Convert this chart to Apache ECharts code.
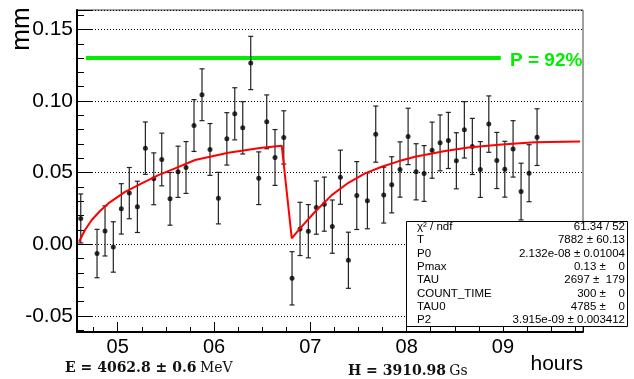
<!DOCTYPE html>
<html>
<head>
<meta charset="utf-8">
<script src="https://cdn.jsdelivr.net/npm/echarts@6/dist/echarts.min.js"></script>
<style>
  html, body { margin: 0; padding: 0; background: #fff; }
  #chart { width: 634px; height: 379px; }
</style>
</head>
<body>
<div id="chart"></div>
<script>
// measured points (time in hours, polarization in mm)
const times = [
  4.616, 4.785, 4.868, 4.954, 5.037, 5.120, 5.204, 5.287, 5.374, 5.457,
  5.543, 5.626, 5.709, 5.792, 5.875, 5.958, 6.045, 6.133, 6.215, 6.298,
  6.381, 6.464, 6.547, 6.633, 6.724, 6.810, 6.893, 6.979, 7.062, 7.145,
  7.228, 7.312, 7.395, 7.482, 7.592, 7.679, 7.762, 7.845, 7.931, 8.015,
  8.098, 8.181, 8.264, 8.347, 8.433, 8.516, 8.599, 8.682, 8.765, 8.853,
  8.936, 9.019, 9.105, 9.188, 9.271, 9.354
];
const values = [
  0.0180, -0.0065, 0.0093, -0.0019, 0.0247, 0.0357, 0.0261, 0.0671, 0.0457, 0.0592,
  0.0317, 0.0506, 0.0536, 0.0829, 0.1044, 0.0662, 0.0322, 0.0736, 0.0911, 0.0813,
  0.1266, 0.0461, 0.0855, 0.0606, 0.0746, -0.0238, 0.0107, 0.0091, 0.0256, 0.0280,
  0.0123, 0.0468, -0.0112, 0.0340, 0.0303, 0.0769, 0.0343, 0.0415, 0.0522, 0.0753,
  0.0506, 0.0494, 0.0657, 0.0708, 0.0725, 0.0583, 0.0799, 0.0683, 0.0522, 0.0839,
  0.0585, 0.0524, 0.0666, 0.0368, 0.0496, 0.0748
];
const errors = [
  0.0171, 0.0169, 0.0175, 0.0176, 0.0176, 0.0179, 0.0179, 0.0183, 0.0181, 0.0184,
  0.0184, 0.0179, 0.0181, 0.0181, 0.0181, 0.0181, 0.0180, 0.0183, 0.0182, 0.0183,
  0.0186, 0.0184, 0.0188, 0.0195, 0.0186, 0.0186, 0.0186, 0.0186, 0.0186, 0.0189,
  0.0186, 0.0189, 0.0196, 0.0237, 0.0195, 0.0196, 0.0195, 0.0196, 0.0193, 0.0197,
  0.0196, 0.0195, 0.0196, 0.0195, 0.0196, 0.0196, 0.0197, 0.0196, 0.0195, 0.0197,
  0.0196, 0.0195, 0.0197, 0.0198, 0.0199, 0.0198
];

// fit curve
const fitTimes = [
  4.598, 4.660, 4.730, 4.816, 4.902, 5.076, 5.249, 5.422, 5.595, 5.803,
  6.148, 6.495, 6.703, 6.807, 6.893, 7.049, 7.222, 7.395, 7.568, 7.741,
  7.914, 8.087, 8.399, 8.641, 8.988, 9.333, 9.801
];
const fitValues = [
  0.0017, 0.0099, 0.0169, 0.0232, 0.0285, 0.0366, 0.0425, 0.0483, 0.0530, 0.0588,
  0.0639, 0.0674, 0.0688, 0.0041, 0.0111, 0.0227, 0.0343, 0.0429, 0.0495, 0.0541,
  0.0579, 0.0611, 0.0651, 0.0676, 0.0697, 0.0713, 0.0718
];

// Pmax level line
const pmaxTimes = [4.671, 8.977];
const pmaxLevel = 0.13;
const pmaxLabel = 'P = 92%';

const statNames = ['χ² / ndf', 'T', 'P0', 'Pmax', 'TAU', 'COUNT_TIME', 'TAU0', 'P2'];
const statValues = [
  '61.34 / 52', '7882 ± 60.13', '2.132e-08 ± 0.01004', '0.13 ±    0',
  '2697 ±  179', '300 ±    0', '4785 ±    0', '3.915e-09 ± 0.003412'
];

const chart = echarts.init(document.getElementById('chart'));

const errData = times.map((t, i) => [t, values[i] - errors[i], values[i] + errors[i]]);
const pointData = times.map((t, i) => [t, values[i]]);
const fitData = fitTimes.map((t, i) => [t, fitValues[i]]);
const pmaxData = pmaxTimes.map((t) => [t, pmaxLevel]);

const sans = 'Liberation Sans, Arial, sans-serif';
const serif = 'DejaVu Serif, serif';

const statGraphics = [
  {
    type: 'rect',
    shape: { x: 406.5, y: 221.5, width: 221, height: 105 },
    style: { fill: '#fff', stroke: '#000', lineWidth: 1 },
    z: 100
  }
];
statNames.forEach((name, i) => {
  const y = 227 + i * 13.3;
  statGraphics.push({
    type: 'text', x: 417, y, z: 101,
    style: { text: name, font: '11.5px ' + sans, fill: '#000', align: 'left', verticalAlign: 'middle' }
  });
  statGraphics.push({
    type: 'text', x: 625, y, z: 101,
    style: { text: statValues[i], font: '11.5px ' + sans, fill: '#000', align: 'right', verticalAlign: 'middle' }
  });
});

chart.setOption({
  animation: false,
  backgroundColor: '#fff',
  grid: {
    left: 77, right: 51, top: 10, bottom: 47,
    containLabel: false,
    show: true, borderColor: '#444', borderWidth: 1
  },
  xAxis: {
    type: 'value',
    min: 4.577,
    max: 9.831,
    splitNumber: 5,
    axisLine: { show: true, onZero: false, lineStyle: { color: '#000', width: 2 } },
    axisTick: { show: true, inside: true, length: 10, lineStyle: { color: '#000', width: 1 } },
    minorTick: { show: true, splitNumber: 4, length: 5, lineStyle: { color: '#000', width: 1 } },
    axisLabel: {
      color: '#000', fontSize: 20, fontFamily: sans, margin: 5,
      showMinLabel: false, showMaxLabel: false,
      formatter: (v) => (v < 10 ? '0' : '') + v
    },
    splitLine: { show: false }
  },
  yAxis: {
    type: 'value',
    min: -0.0613,
    max: 0.1636,
    splitNumber: 5,
    axisLine: { show: true, onZero: false, lineStyle: { color: '#000', width: 2 } },
    axisTick: { show: true, inside: true, length: 15, lineStyle: { color: '#000', width: 1 } },
    minorTick: { show: true, splitNumber: 5, length: 7, lineStyle: { color: '#000', width: 1 } },
    axisLabel: {
      color: '#000', fontSize: 21, fontFamily: sans, margin: 4,
      showMinLabel: false, showMaxLabel: false,
      formatter: (v) => v.toFixed(2)
    },
    splitLine: { show: true, lineStyle: { color: '#000', width: 1, type: [1, 2] } }
  },
  series: [
    {
      type: 'line',
      data: pmaxData,
      symbol: 'none',
      lineStyle: { color: '#00ee00', width: 4 },
      z: 3
    },
    {
      type: 'custom',
      data: errData,
      renderItem: (params, api) => {
        const x = api.value(0);
        const lo = api.coord([x, api.value(1)]);
        const hi = api.coord([x, api.value(2)]);
        const w = 2.5;
        const st = { stroke: '#222', lineWidth: 1.2 };
        return {
          type: 'group',
          children: [
            { type: 'line', shape: { x1: lo[0], y1: lo[1], x2: hi[0], y2: hi[1] }, style: st },
            { type: 'line', shape: { x1: lo[0] - w, y1: lo[1], x2: lo[0] + w, y2: lo[1] }, style: st },
            { type: 'line', shape: { x1: hi[0] - w, y1: hi[1], x2: hi[0] + w, y2: hi[1] }, style: st }
          ]
        };
      },
      z: 4
    },
    {
      type: 'scatter',
      data: pointData,
      symbol: 'circle',
      symbolSize: 5,
      itemStyle: { color: '#000' },
      z: 5
    },
    {
      type: 'line',
      data: fitData,
      symbol: 'none',
      lineStyle: { color: '#ff0000', width: 2 },
      z: 6
    }
  ],
  graphic: [
    {
      type: 'text', x: 22, y: 29, rotation: Math.PI / 2,
      style: { text: 'mm', font: '26px ' + sans, fill: '#000', align: 'center', verticalAlign: 'middle' }
    },
    {
      type: 'text', x: 510, y: 61,
      style: { text: pmaxLabel, font: 'bold 19px ' + sans, fill: '#00ee00', align: 'left', verticalAlign: 'middle' }
    },
    {
      type: 'text', x: 583, y: 364,
      style: { text: 'hours', font: '21px ' + sans, fill: '#000', align: 'right', verticalAlign: 'middle' }
    },
    {
      type: 'text', x: 65, y: 368,
      style: {
        text: '{b|E = 4062.8 ± 0.6} {r|MeV}',
        align: 'left', verticalAlign: 'middle',
        rich: {
          b: { font: 'bold 14px ' + serif, fill: '#111' },
          r: { font: '14px ' + serif, fill: '#111' }
        }
      }
    },
    {
      type: 'text', x: 348, y: 371,
      style: {
        text: '{b|H = 3910.98} {r|Gs}',
        align: 'left', verticalAlign: 'middle',
        rich: {
          b: { font: 'bold 14px ' + serif, fill: '#111' },
          r: { font: '14px ' + serif, fill: '#111' }
        }
      }
    }
  ].concat(statGraphics)
});
</script>
</body>
</html>
